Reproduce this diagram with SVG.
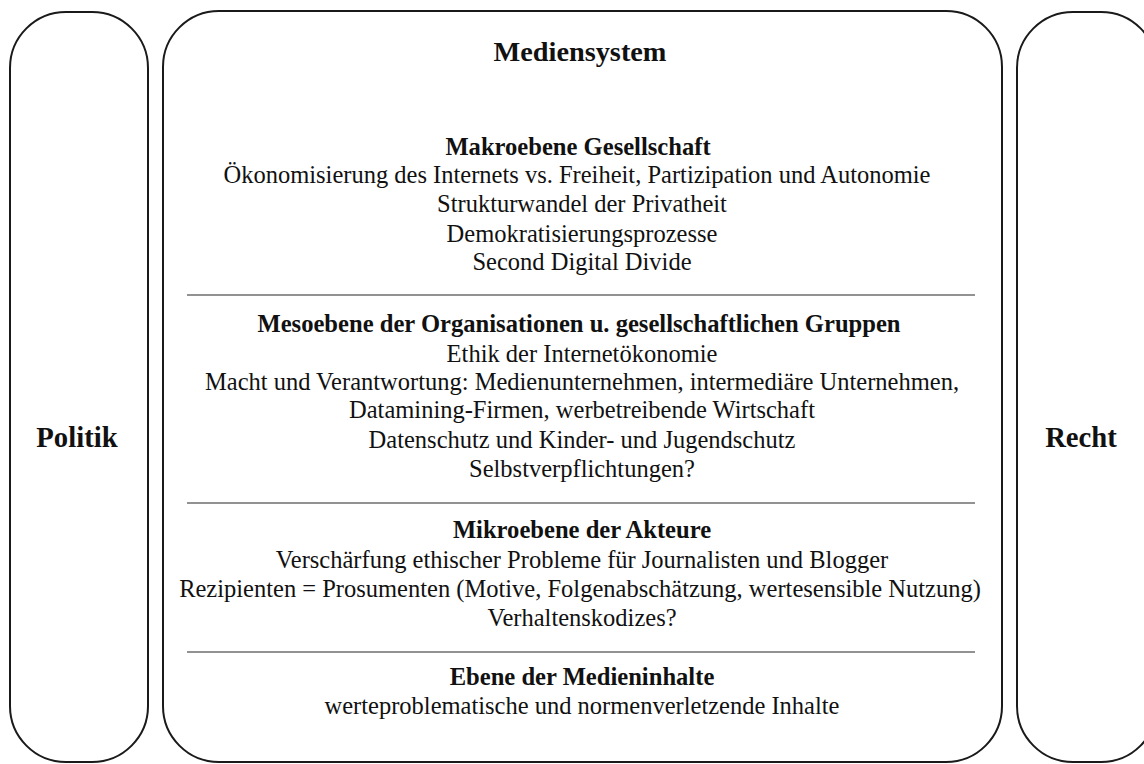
<svg xmlns="http://www.w3.org/2000/svg" width="1144" height="764" viewBox="0 0 1144 764">
<style>
.box{fill:#fff;stroke:#1a1a1a;stroke-width:2}
.sep{stroke:#6e6e6e;stroke-width:1.5}
text{font-family:"Liberation Serif","Times New Roman",serif;fill:#111;text-anchor:middle}
.title{font-size:28.3px;font-weight:bold}
.side{font-size:28.7px;font-weight:bold}
.h{font-size:24.6px;font-weight:bold}
.b{font-size:24.5px}
</style>
<rect width="1144" height="764" fill="#fff"/>
<g id="politik">
<rect class="box" x="10" y="12" width="138" height="750" rx="56" ry="56"/>
<text class="side" x="77" y="447">Politik</text>
</g>
<g id="mediensystem">
<rect class="box" x="163" y="11" width="839" height="751" rx="56" ry="56"/>
<text class="title" x="580" y="61">Mediensystem</text>
<text class="h" x="578" y="155">Makroebene Gesellschaft</text>
<text class="b" x="577" y="183">Ökonomisierung des Internets vs. Freiheit, Partizipation und Autonomie</text>
<text class="b" x="582" y="212">Strukturwandel der Privatheit</text>
<text class="b" x="582" y="242">Demokratisierungsprozesse</text>
<text class="b" x="582" y="270">Second Digital Divide</text>
<line class="sep" x1="187" y1="295" x2="975" y2="295"/>
<text class="h" x="579" y="332">Mesoebene der Organisationen u. gesellschaftlichen Gruppen</text>
<text class="b" x="582" y="362">Ethik der Internetökonomie</text>
<text class="b" x="582" y="390">Macht und Verantwortung: Medienunternehmen, intermediäre Unternehmen,</text>
<text class="b" x="582" y="418">Datamining-Firmen, werbetreibende Wirtschaft</text>
<text class="b" x="582" y="448">Datenschutz und Kinder- und Jugendschutz</text>
<text class="b" x="582" y="477">Selbstverpflichtungen?</text>
<line class="sep" x1="187" y1="503" x2="975" y2="503"/>
<text class="h" x="582" y="538">Mikroebene der Akteure</text>
<text class="b" x="582" y="568">Verschärfung ethischer Probleme für Journalisten und Blogger</text>
<text class="b" x="580" y="597">Rezipienten = Prosumenten (Motive, Folgenabschätzung, wertesensible Nutzung)</text>
<text class="b" x="582" y="626">Verhaltenskodizes?</text>
<line class="sep" x1="187" y1="652" x2="975" y2="652"/>
<text class="h" x="582" y="685">Ebene der Medieninhalte</text>
<text class="b" x="582" y="714">werteproblematische und normenverletzende Inhalte</text>
</g>
<g id="recht">
<rect class="box" x="1017" y="12" width="140" height="750" rx="56" ry="56"/>
<text class="side" x="1081" y="447">Recht</text>
</g>
<g id="connectors"></g>
</svg>
